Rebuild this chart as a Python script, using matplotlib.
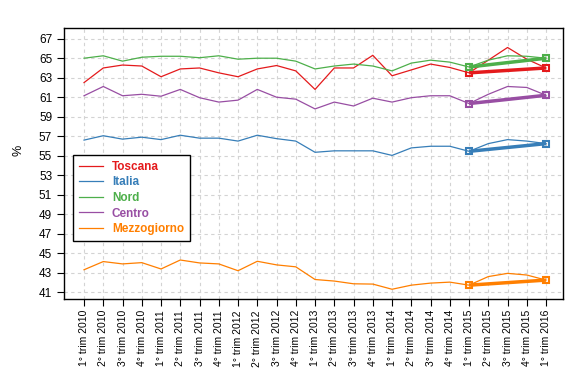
import numpy as np
import matplotlib
matplotlib.use("Agg")
import matplotlib.pyplot as plt

plt.rcParams['font.family'] = ['Liberation Sans', 'DejaVu Sans']

quarters = []
for y in range(2010, 2017):
    for q in range(1, 5):
        quarters.append("%d° trim %d" % (q, y))
quarters = quarters[:25]

toscana = [62.5, 64.0, 64.3, 64.2, 63.1, 63.9, 64.0, 63.5, 63.1, 63.9, 64.25, 63.7,
           61.8, 64.0, 64.0, 65.3, 63.2, 63.8, 64.4, 64.05, 63.5, 64.8, 66.1, 64.9, 64.0]
italia = [56.6, 57.05, 56.7, 56.9, 56.65, 57.1, 56.8, 56.8, 56.5, 57.1, 56.75, 56.5,
          55.35, 55.5, 55.5, 55.5, 55.03, 55.8, 55.97, 55.97, 55.45, 56.24, 56.65, 56.5, 56.24]
nord = [65.0, 65.25, 64.7, 65.1, 65.2, 65.2, 65.05, 65.25, 64.9, 65.0, 65.0, 64.7,
        63.9, 64.2, 64.4, 64.2, 63.7, 64.5, 64.8, 64.6, 64.1, 64.8, 65.25, 65.2, 65.0]
centro = [61.15, 62.1, 61.15, 61.3, 61.1, 61.8, 60.95, 60.5, 60.7, 61.8, 61.0, 60.8,
          59.8, 60.5, 60.1, 60.9, 60.5, 60.95, 61.15, 61.15, 60.35, 61.3, 62.1, 62.0, 61.2]
mezzogiorno = [43.3, 44.14, 43.9, 44.03, 43.38, 44.3, 44.0, 43.9, 43.2, 44.17, 43.8, 43.6,
               42.3, 42.14, 41.86, 41.83, 41.3, 41.72, 41.93, 42.03, 41.72, 42.6, 42.93, 42.76, 42.24]

series = [("Toscana", toscana, "#E41A1C"),
          ("Italia", italia, "#377EB8"),
          ("Nord", nord, "#4DAF4A"),
          ("Centro", centro, "#984EA3"),
          ("Mezzogiorno", mezzogiorno, "#FF7F00")]

x = np.arange(len(quarters))
start = 20  # 1° trim 2015

fig = plt.figure(figsize=(5.71, 3.8), dpi=100)
ax = fig.add_axes([64 / 571, 1 - 299 / 380, 499 / 571, 271 / 380])

handles = []
for name, vals, col in series:
    h, = ax.plot(x, vals, color=col, lw=0.9)
    handles.append(h)
    ax.plot([x[start], x[-1]], [vals[start], vals[-1]], color=col, lw=2.5,
            marker='s', ms=4, mfc='none', mew=1.5, solid_capstyle='butt')

ax.set_xlim(-1.04, 24.88)
ax.set_ylim(40.3, 68.1)
ax.set_yticks(np.arange(41, 68, 2))
ax.set_xticks(x)
ax.set_xticklabels(quarters, rotation=90, fontsize=7.5)
ax.tick_params(axis='y', labelsize=8.5, length=5, direction='out')
ax.tick_params(axis='x', length=5, direction='out', pad=3)
ax.grid(True, color='#D3D3D3', ls=(0, (3, 3)), lw=0.8)
ax.set_axisbelow(True)
for s in ax.spines.values():
    s.set_linewidth(1.0)
ax.set_ylabel("%", fontsize=9)
ax.yaxis.set_label_coords(-0.08, 0.55)

leg = ax.legend(handles, [s[0] for s in series], loc='upper left',
                bbox_to_anchor=(9 / 499, (299 - 155) / 271), borderaxespad=0,
                fancybox=False, edgecolor='black', framealpha=1, fontsize=8.5,
                handlelength=2.0, labelspacing=0.3, borderpad=0.5, handletextpad=0.8)
leg.get_frame().set_linewidth(1.0)
for txt, (name, vals, col) in zip(leg.get_texts(), series):
    txt.set_color(col)
    txt.set_fontweight('bold')

fig.savefig("out.png", dpi=100)
